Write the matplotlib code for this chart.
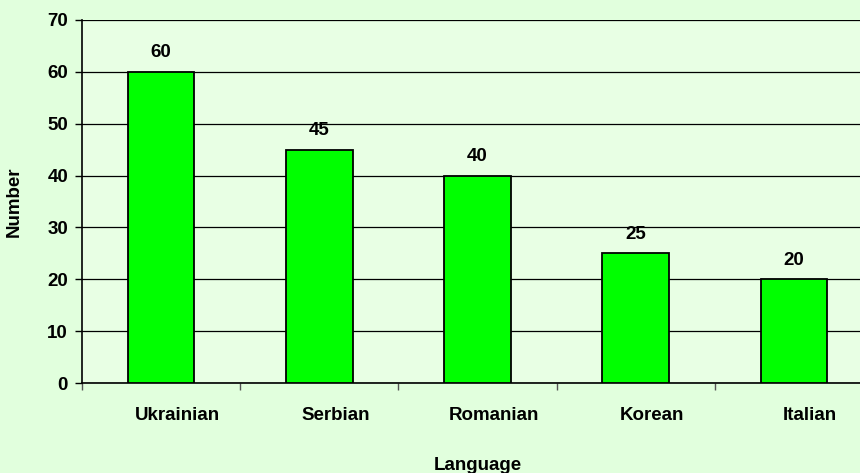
import matplotlib
matplotlib.use("Agg")
import matplotlib.pyplot as plt
import matplotlib.transforms as mtransforms
import numpy as np

languages = ["Ukrainian", "Serbian", "Romanian", "Korean", "Italian"]
numbers = [60, 45, 40, 25, 20]
yticks = [0, 10, 20, 30, 40, 50, 60, 70]

plt.rcParams['font.family'] = ['Liberation Sans', 'DejaVu Sans']
plt.rcParams['font.weight'] = 'bold'

W, H = 860, 473
fig = plt.figure(figsize=(W/100, H/100), dpi=100, facecolor='#E1FFDD')
ax = fig.add_axes([82/W, 1-383/H, 791/W, (383-20)/H])
ax.set_facecolor('#E8FFE4')

FS = 13.5
x = np.arange(len(languages))
bars = ax.bar(x, numbers, width=0.42, color='#00FF00', edgecolor='black', linewidth=1.3, zorder=3)
for xi, v in zip(x, numbers):
    ax.text(xi, v + 3.7, str(v), ha='center', va='center', fontsize=FS, fontweight='bold', zorder=4)

ax.set_xlim(-0.5, len(languages) - 0.5)
ax.set_ylim(0, 70)
ax.set_yticks(yticks)
ax.set_yticklabels([str(t) for t in yticks], fontsize=FS, fontweight='bold')
ax.yaxis.grid(True, color='black', linewidth=0.9, zorder=0)
ax.set_axisbelow(True)

ax.set_xticks(x)
ax.set_xticklabels(languages, fontsize=FS, fontweight='bold')
ax.set_xticks(np.arange(len(languages) + 1) - 0.5, minor=True)
ax.tick_params(axis='x', which='major', length=0, pad=17)
ax.tick_params(axis='x', which='minor', length=5, width=1, color='#555555')
ax.tick_params(axis='y', length=5, width=1, pad=5)

offset = mtransforms.ScaledTranslation(16/100, 0, fig.dpi_scale_trans)
for lbl in ax.get_xticklabels():
    lbl.set_transform(lbl.get_transform() + offset)

for s in ['top', 'right']:
    ax.spines[s].set_visible(False)
ax.spines['left'].set_linewidth(1.2)
ax.spines['bottom'].set_linewidth(1.2)

ax.set_xlabel('Language', fontsize=FS, fontweight='bold', labelpad=24)
ax.set_ylabel('Number', fontsize=FS, fontweight='bold', labelpad=18)

fig.savefig('out.png', dpi=100, facecolor=fig.get_facecolor())
